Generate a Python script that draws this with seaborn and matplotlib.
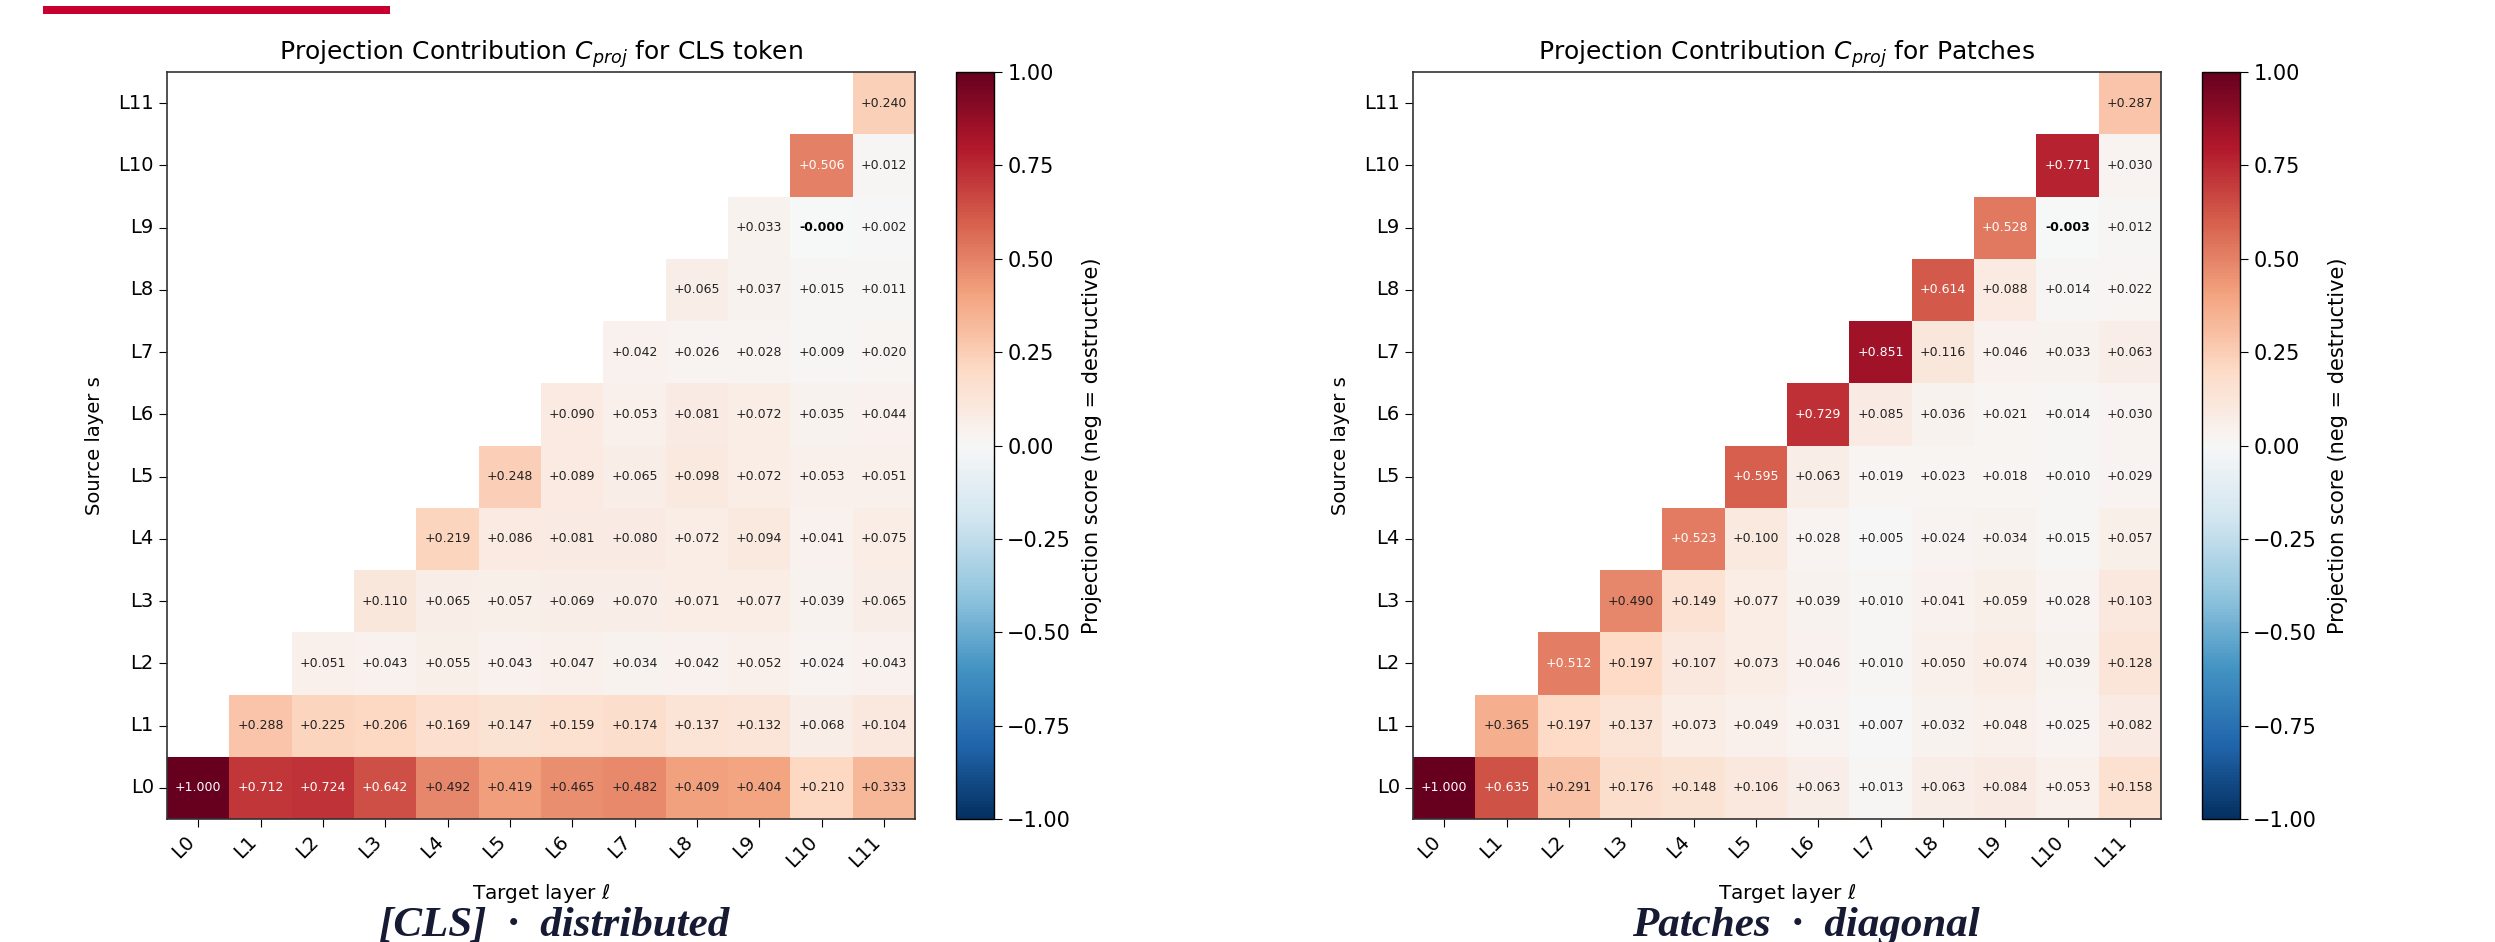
import numpy as np
import pandas as pd
import matplotlib
matplotlib.use("Agg")
import matplotlib.pyplot as plt
import seaborn as sns
from matplotlib.patches import Rectangle

layers = [f"L{i}" for i in range(12)]

# row s = source layer, values start at target layer l = s
cls_rows = [
    [1.000, 0.712, 0.724, 0.642, 0.492, 0.419, 0.465, 0.482, 0.409, 0.404, 0.210, 0.333],
    [0.288, 0.225, 0.206, 0.169, 0.147, 0.159, 0.174, 0.137, 0.132, 0.068, 0.104],
    [0.051, 0.043, 0.055, 0.043, 0.047, 0.034, 0.042, 0.052, 0.024, 0.043],
    [0.110, 0.065, 0.057, 0.069, 0.070, 0.071, 0.077, 0.039, 0.065],
    [0.219, 0.086, 0.081, 0.080, 0.072, 0.094, 0.041, 0.075],
    [0.248, 0.089, 0.065, 0.098, 0.072, 0.053, 0.051],
    [0.090, 0.053, 0.081, 0.072, 0.035, 0.044],
    [0.042, 0.026, 0.028, 0.009, 0.020],
    [0.065, 0.037, 0.015, 0.011],
    [0.033, -0.0004, 0.002],
    [0.506, 0.012],
    [0.240],
]

patch_rows = [
    [1.000, 0.635, 0.291, 0.176, 0.148, 0.106, 0.063, 0.013, 0.063, 0.084, 0.053, 0.158],
    [0.365, 0.197, 0.137, 0.073, 0.049, 0.031, 0.007, 0.032, 0.048, 0.025, 0.082],
    [0.512, 0.197, 0.107, 0.073, 0.046, 0.010, 0.050, 0.074, 0.039, 0.128],
    [0.490, 0.149, 0.077, 0.039, 0.010, 0.041, 0.059, 0.028, 0.103],
    [0.523, 0.100, 0.028, 0.005, 0.024, 0.034, 0.015, 0.057],
    [0.595, 0.063, 0.019, 0.023, 0.018, 0.010, 0.029],
    [0.729, 0.085, 0.036, 0.021, 0.014, 0.030],
    [0.851, 0.116, 0.046, 0.033, 0.063],
    [0.614, 0.088, 0.014, 0.022],
    [0.528, -0.003, 0.012],
    [0.771, 0.030],
    [0.287],
]

titles = [r"Projection Contribution $C_{proj}$ for CLS token",
          r"Projection Contribution $C_{proj}$ for Patches"]
captions = ["[CLS]  ·  distributed", "Patches  ·  diagonal"]


def to_frame(rows):
    m = np.full((len(layers), len(layers)), np.nan)
    for s, row in enumerate(rows):
        m[s, s:] = row
    return pd.DataFrame(m, index=layers, columns=layers)


W, H = 2495, 942
fig = plt.figure(figsize=(W / 100, H / 100), dpi=100)

# red accent bar at the top-left of the slide
fig.add_artist(Rectangle((43 / W, 1 - 14 / H), 347 / W, 8 / H,
                         transform=fig.transFigure, color="#c8002f", lw=0))

ax_left = [167, 1413]
cax_left = [956, 2202]
cap_x = [554, 1806]

for k, rows in enumerate([cls_rows, patch_rows]):
    ax = fig.add_axes([ax_left[k] / W, 1 - 819 / H, 748 / W, 747 / H])
    cax = fig.add_axes([cax_left[k] / W, 1 - 819 / H, 38 / W, 747 / H])
    sns.heatmap(to_frame(rows), ax=ax, cbar_ax=cax, cmap="RdBu_r", vmin=-1, vmax=1,
                annot=True, fmt="+.3f", annot_kws={"fontsize": 9},
                cbar_kws={"ticks": np.linspace(-1, 1, 9)})
    ax.invert_yaxis()

    # white text on strong cells, bold for negative scores
    for t in ax.texts:
        s = t.get_text()
        t.set_color("white" if abs(float(s)) > 0.5 else "#222222")
        if s.startswith("-"):
            t.set_fontweight("bold")
            t.set_color("black")

    for sp in ax.spines.values():
        sp.set_visible(True)
        sp.set_linewidth(1.2)
        sp.set_color("#333333")

    ax.set_title(titles[k], fontsize=18, pad=9)
    ax.set_xlabel(r"Target layer $\ell$", fontsize=14.5, labelpad=8)
    ax.set_ylabel("Source layer s", fontsize=14, labelpad=10)
    ax.tick_params(labelsize=14, length=6)
    plt.setp(ax.get_yticklabels(), rotation=0)
    plt.setp(ax.get_xticklabels(), rotation=45, ha="right")

    cbar = ax.collections[0].colorbar
    cbar.outline.set_linewidth(1.0)
    cax.tick_params(labelsize=15, length=6)
    cbar.set_label("Projection score (neg = destructive)", fontsize=15, labelpad=8)

    fig.text(cap_x[k] / W, 6 / H, captions[k], family="Liberation Serif",
             weight="bold", style="italic", fontsize=31, ha="center",
             va="baseline", color="#161a33")

fig.savefig("out.png", dpi=100)
